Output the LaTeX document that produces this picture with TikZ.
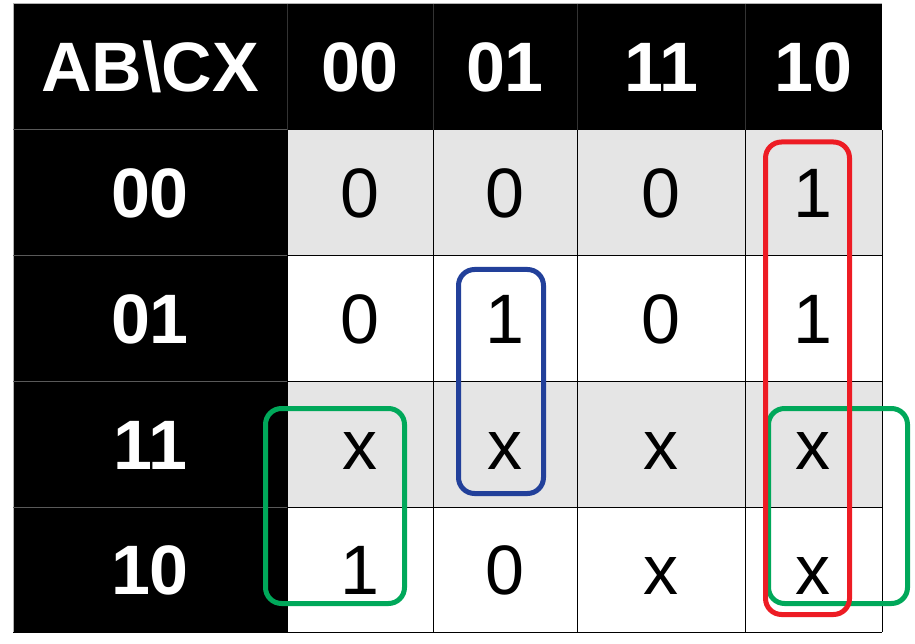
\documentclass[tikz,border=0pt]{standalone}
\usepackage{fontspec}
\setmainfont{Liberation Sans}
\definecolor{loopred}{HTML}{ED1C24}
\definecolor{loopblue}{HTML}{22409A}
\definecolor{loopgreen}{HTML}{00A85A}
\begin{document}
\begin{tikzpicture}[x = 1pt, y = -1pt,
    head/.style = {anchor = base, text = white, font = \fontsize{70}{80}\selectfont\bfseries},
    cell/.style = {anchor = base, text = black, font = \fontsize{70}{80}\selectfont},
    loop/.style = {line width = 5pt, rounded corners = 16pt}]
        \useasboundingbox (0,0) rectangle (915,644);
        % black heading bands, grey rows
        \fill[black] (13,4) rectangle (882,130);
        \fill[black] (13,130) rectangle (287,632);
        \fill[gray!20] (287,130) rectangle (882,256);
        \fill[gray!20] (287,381) rectangle (882,507);
        \draw[gray!60, line width = 1pt] (13,4) -- (882,4);
        \draw[gray!60, line width = 1pt] (13,4) -- (13,632);
        \foreach \y in {130,256,381,507}
          \draw[black!65, line width = 1pt] (13,\y) -- (287,\y);
        \foreach \x in {287,433,577,745}
          \draw[black!80, line width = 1pt] (\x,4) -- (\x,130);
        % grid of the map
        \foreach \x in {287,433,577,745,882}
          \draw[line width = 1pt] (\x,130) -- (\x,632);
        \foreach \y in {256,381,507}
          \draw[line width = 1pt] (287,\y) -- (882,\y);
        \draw[line width = 1pt] (13,632) -- (882,632);
        % headings
        \node[head] (corner) at (150,92) {AB\textbackslash CX};
        \foreach \v/\x [count=\i] in {00/360, 01/505, 11/661, 10/813}
          \node[head] (col\i) at (\x,92) {\v};
        \foreach \v/\y [count=\i] in {00/218, 01/343.5, 11/469, 10/594.5}
          \node[head] (row\i) at (150,\y) {\v};
        % cell values
        \foreach \a/\b/\c/\d/\y [count=\i] in {0/0/0/1/218, 0/1/0/1/343.5, x/x/x/x/469, 1/0/x/x/594.5} {
          \node[cell] (c\i-1) at (360,\y) {\a};
          \node[cell] (c\i-2) at (505,\y) {\b};
          \node[cell] (c\i-3) at (661,\y) {\c};
          \node[cell] (c\i-4) at (813,\y) {\d};
        }
        % groups
        \draw[loop, loopblue] (458.5,269.5) rectangle (543.5,493.5);
        \draw[loop, loopgreen] (265.5,408.5) rectangle (404.5,603.5);
        \draw[loop, loopgreen] (768.5,408.5) rectangle (907.5,603.5);
        \draw[loop, loopred] (765.5,142) rectangle (849.5,614.5);
      \end{tikzpicture}
\end{document}
